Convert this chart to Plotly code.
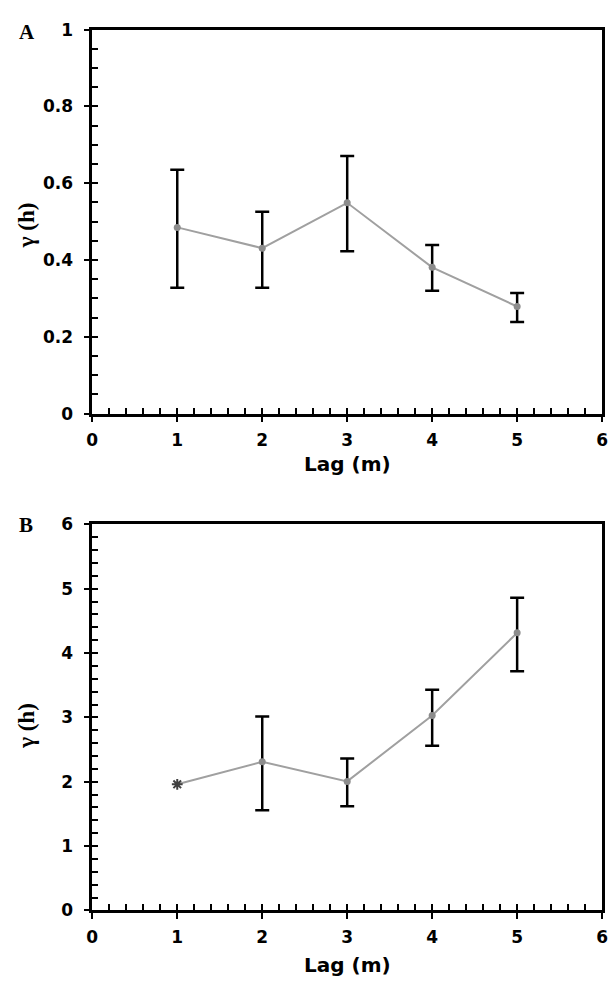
import plotly.graph_objects as go

# ---- data ----
lag = [1, 2, 3, 4, 5]

# Panel A
gamma_a = [0.485, 0.431, 0.549, 0.381, 0.279]
upper_a = [0.635, 0.526, 0.671, 0.439, 0.314]
lower_a = [0.328, 0.328, 0.423, 0.320, 0.239]

# Panel B (first point has no error bar, drawn with asterisk)
gamma_b = [1.96, 2.31, 2.005, 3.03, 4.314]
upper_b = [None, 3.015, 2.36, 3.43, 4.86]
lower_b = [None, 1.558, 1.62, 2.558, 3.716]

x_ticks = [0, 1, 2, 3, 4, 5, 6]
ya_ticks = [0, 0.2, 0.4, 0.6, 0.8, 1]
ya_ticktext = ["0", "0.2", "0.4", "0.6", "0.8", "1"]
yb_ticks = [0, 1, 2, 3, 4, 5, 6]

x_title = "Lag (m)"
y_title = "γ (h)"

# ---- derived error arrays ----
err_a_plus = [u - g for u, g in zip(upper_a, gamma_a)]
err_a_minus = [g - l for g, l in zip(gamma_a, lower_a)]
err_b_plus = [(u - g) if u is not None else 0 for u, g in zip(upper_b, gamma_b)]
err_b_minus = [(g - l) if l is not None else 0 for g, l in zip(gamma_b, lower_b)]

LINE_GRAY = "#a0a0a0"
MARK_GRAY = "#8c8c8c"
TICKFONT = dict(family="DejaVu Sans", size=17, color="black", weight="bold")

fig = go.Figure()

# Panel A
fig.add_trace(go.Scatter(
    x=lag, y=gamma_a, mode="lines+markers",
    line=dict(color=LINE_GRAY, width=2),
    marker=dict(color=MARK_GRAY, size=7, symbol="circle"),
    error_y=dict(type="data", symmetric=False, array=err_a_plus, arrayminus=err_a_minus,
                 color="black", thickness=2.5, width=7),
    xaxis="x", yaxis="y", showlegend=False))

# Panel B
fig.add_trace(go.Scatter(
    x=lag, y=gamma_b, mode="lines",
    line=dict(color=LINE_GRAY, width=2),
    xaxis="x2", yaxis="y2", showlegend=False))
fig.add_trace(go.Scatter(
    x=lag[1:], y=gamma_b[1:], mode="markers",
    marker=dict(color=MARK_GRAY, size=7, symbol="circle"),
    error_y=dict(type="data", symmetric=False, array=err_b_plus[1:], arrayminus=err_b_minus[1:],
                 color="black", thickness=2.5, width=7),
    xaxis="x2", yaxis="y2", showlegend=False))
fig.add_trace(go.Scatter(
    x=lag[:1], y=gamma_b[:1], mode="markers",
    marker=dict(color="#404040", size=9, symbol="asterisk-open", line=dict(width=2, color="#404040")),
    xaxis="x2", yaxis="y2", showlegend=False))

XDOM = [88 / 614, 608 / 614]
YDOM_A = [1 - 412 / 989, 1 - 20 / 989]
YDOM_B = [1 - 919 / 989, 1 - 525 / 989]

common_main = dict(showgrid=False, zeroline=False, showline=True, linecolor="black",
                   linewidth=2.5, mirror=True, ticks="outside", ticklen=6, tickwidth=2,
                   tickcolor="black", tickfont=TICKFONT)
common_over = dict(showgrid=False, zeroline=False, showline=False, ticks="inside",
                   ticklen=6, tickwidth=2, tickcolor="black", showticklabels=False)

fig.update_layout(
    width=614, height=989,
    margin=dict(l=0, r=0, t=0, b=0),
    paper_bgcolor="white", plot_bgcolor="white",
    xaxis=dict(domain=XDOM, anchor="y", range=[0, 6], tickvals=x_ticks,
               ticklabelstandoff=3, **common_main),
    yaxis=dict(domain=YDOM_A, anchor="x", range=[0, 1], tickvals=ya_ticks,
               ticktext=ya_ticktext, ticklabelstandoff=7, **common_main),
    xaxis2=dict(domain=XDOM, anchor="y2", range=[0, 6], tickvals=x_ticks,
                ticklabelstandoff=3, **common_main),
    yaxis2=dict(domain=YDOM_B, anchor="x2", range=[0, 6], tickvals=yb_ticks,
                ticklabelstandoff=7, **common_main),
    # overlay axes for inside (minor + inner half of major) ticks
    xaxis3=dict(overlaying="x", anchor="y", range=[0, 6], dtick=0.2, tick0=0, **common_over),
    yaxis3=dict(overlaying="y", anchor="x", range=[0, 1], dtick=0.05, tick0=0, **common_over),
    xaxis4=dict(overlaying="x2", anchor="y2", range=[0, 6], dtick=0.2, tick0=0, **common_over),
    yaxis4=dict(overlaying="y2", anchor="x2", range=[0, 6], dtick=0.2, tick0=0, **common_over),
)

# dummy traces so overlay axes render
fig.add_trace(go.Scatter(x=[None], y=[None], xaxis="x3", yaxis="y3", showlegend=False, hoverinfo="skip"))
fig.add_trace(go.Scatter(x=[None], y=[None], xaxis="x4", yaxis="y4", showlegend=False, hoverinfo="skip"))

TITLEFONT = dict(family="DejaVu Sans", size=20, color="black", weight="bold")
SERIF = dict(family="Liberation Serif", size=23, color="black", weight="bold")
annots = [
    dict(text=x_title, x=(XDOM[0] + XDOM[1]) / 2, y=1 - 463 / 989, font=TITLEFONT),
    dict(text=x_title, x=(XDOM[0] + XDOM[1]) / 2, y=1 - 975 / 989, font=TITLEFONT),
    dict(text=y_title, x=21 / 614, y=1 - 220 / 989, font=SERIF, textangle=-90),
    dict(text=y_title, x=21 / 614, y=1 - 731 / 989, font=SERIF, textangle=-90),
    dict(text="<b>A</b>", x=21 / 614, y=1 - 22 / 989, font=dict(family="Liberation Serif", size=21, color="black")),
    dict(text="<b>B</b>", x=20 / 614, y=1 - 526 / 989, font=dict(family="Liberation Serif", size=21, color="black")),
]
for a in annots:
    fig.add_annotation(xref="paper", yref="paper", showarrow=False,
                       xanchor="center", yanchor="middle", **a)

fig.write_html("out.html")
